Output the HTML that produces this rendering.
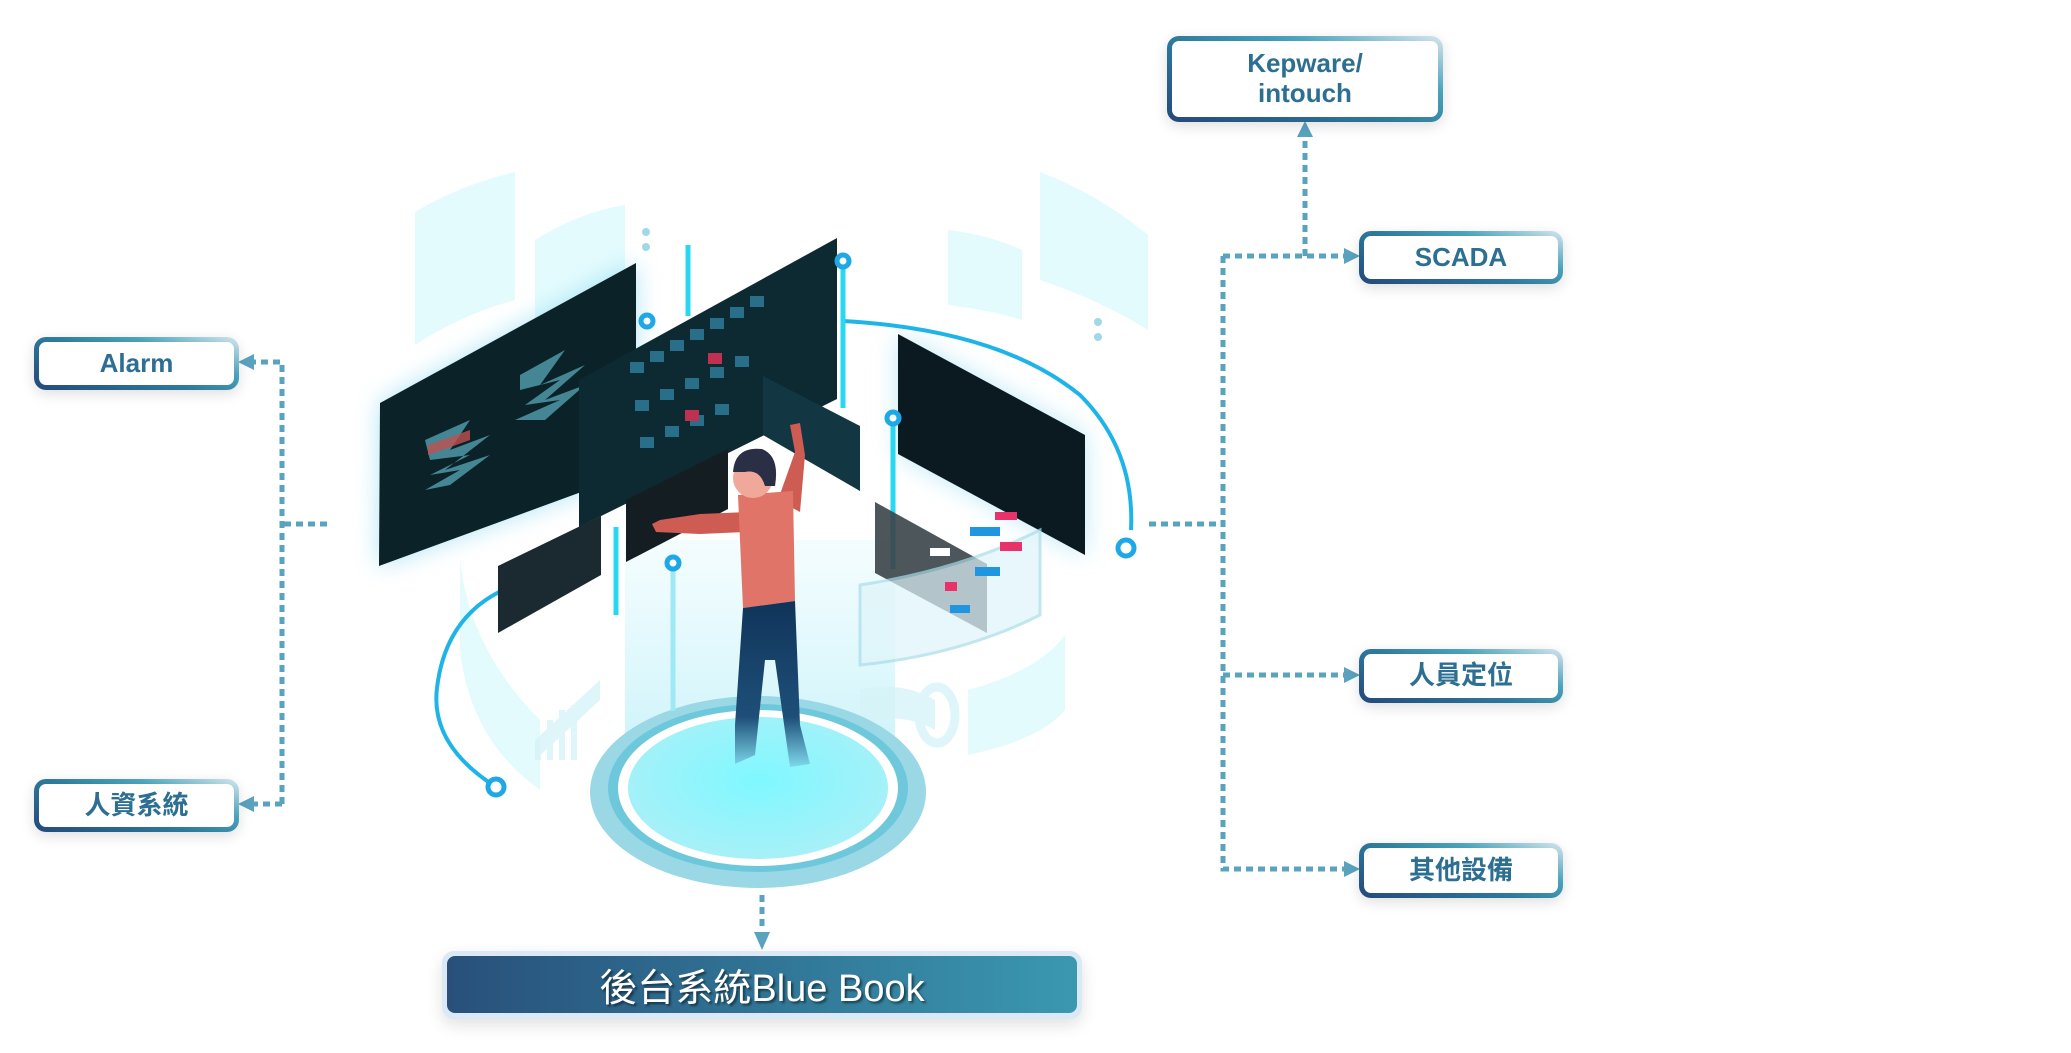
<!DOCTYPE html>
<html><head><meta charset="utf-8"><style>
html,body{margin:0;padding:0;background:#fff;}
body{width:2071px;height:1053px;position:relative;overflow:hidden;font-family:"Liberation Sans","Noto Sans CJK TC",sans-serif;}
.box{position:absolute;box-sizing:border-box;border:5px solid transparent;border-radius:12px;
background:linear-gradient(#fff,#fff) padding-box,linear-gradient(20deg,#24497a 0%,#2e7a9c 45%,#4aa3bb 70%,#d6e6ee 100%) border-box;
box-shadow:0 4px 14px rgba(0,0,0,0.13);color:#2c6f93;font-size:26px;font-weight:bold;text-align:center;display:flex;align-items:center;justify-content:center;line-height:1.15;}
svg{position:absolute;left:0;top:0;}
</style></head><body>
<svg width="2071" height="1053" viewBox="0 0 2071 1053">
<defs>
<radialGradient id="plat" cx="50%" cy="45%" r="55%"><stop offset="0" stop-color="#7ff8ff"/><stop offset="1" stop-color="#a8f0f8"/></radialGradient>
<linearGradient id="pants" x1="0" y1="0" x2="0" y2="1"><stop offset="0" stop-color="#10345a"/><stop offset="0.7" stop-color="#1e4f78"/><stop offset="1" stop-color="#7fd9ec"/></linearGradient>
<linearGradient id="beam" x1="0" y1="0" x2="0" y2="1"><stop offset="0" stop-color="#c9f4fb" stop-opacity="0.2"/><stop offset="1" stop-color="#b4eef8" stop-opacity="0.8"/></linearGradient>
<filter id="glow" x="-20%" y="-20%" width="140%" height="140%"><feGaussianBlur stdDeviation="12"/></filter>
</defs>
<g fill="#e3fbfd">
<path d="M415 212 Q460 185 515 172 L515 300 Q460 315 415 345 Z"/>
<path d="M535 240 Q580 212 625 205 L625 320 Q580 330 535 352 Z"/>
<path d="M1040 172 Q1100 195 1148 235 L1148 330 Q1100 300 1040 280 Z"/>
<path d="M948 230 Q990 235 1022 250 L1022 320 Q990 310 948 305 Z"/>
<path d="M460 560 Q470 650 540 720 L540 790 Q470 740 460 650 Z"/>
<path d="M968 690 Q1040 670 1065 635 L1065 710 Q1040 740 968 755 Z"/>
</g>
<rect x="625" y="540" width="270" height="250" fill="url(#beam)"/>
<g fill="#d6f3f8" opacity="0.8">
<path d="M535 740 L600 680 L600 700 L535 760 Z"/>
<rect x="535" y="740" width="6" height="20"/><rect x="547" y="720" width="6" height="40"/><rect x="559" y="710" width="6" height="50"/><rect x="571" y="705" width="6" height="55"/>
<path d="M860 690 Q900 680 935 700 L935 730 Q900 710 860 725 Z"/>
<ellipse cx="937" cy="715" rx="18" ry="28" fill="none" stroke="#d6f3f8" stroke-width="9"/>
</g>
<ellipse cx="758" cy="792" rx="168" ry="96" fill="#9ad8e6"/>
<ellipse cx="758" cy="788" rx="150" ry="84" fill="#6ec8dc"/>
<ellipse cx="758" cy="788" rx="140" ry="78" fill="#fff"/>
<ellipse cx="758" cy="788" rx="130" ry="71" fill="url(#plat)"/>
<polygon points="380,403 636,263 636,472 379,566" fill="#7fd4f0" filter="url(#glow)" opacity="0.6"/>
<polygon points="898,334 1085,435 1085,555 898,454" fill="#7fd4f0" filter="url(#glow)" opacity="0.5"/>
<path d="M496 787 Q430 745 437 688 Q445 620 499 592" fill="none" stroke="#1fb4e8" stroke-width="4"/>
<path d="M843 321 Q1000 330 1080 395 Q1135 450 1131 530" fill="none" stroke="#1fb4e8" stroke-width="4"/>
<g stroke="#29d7f0" stroke-width="5">
<line x1="688" y1="245" x2="688" y2="316"/><line x1="843" y1="261" x2="843" y2="408"/>
<line x1="893" y1="417" x2="893" y2="569"/><line x1="616" y1="527" x2="616" y2="615"/>
<line x1="673" y1="564" x2="673" y2="711" stroke="#9ee9f5"/>
</g>
<polygon points="380,403 636,263 636,472 379,566" fill="#0b2229"/>
<g fill="#5aa8b8" opacity="0.75">
<polygon points="425,440 470,420 450,450 490,435 445,470 490,455 450,485 425,490 460,470 430,475 470,455 430,460"/>
<polygon points="520,375 565,350 540,385 585,365 545,400 585,385 545,420 515,420 560,400 525,405 560,380 520,390"/>
</g>
<polygon points="428,445 470,430 470,440 428,455" fill="#c0504f" opacity="0.8"/>
<polygon points="579,380 837,238 837,399 579,527" fill="#0d2a33"/>
<g fill="#2a6f8a">
<rect x="630" y="362" width="14" height="11"/><rect x="650" y="351" width="14" height="11"/><rect x="670" y="340" width="14" height="11"/><rect x="690" y="329" width="14" height="11"/><rect x="710" y="318" width="14" height="11"/><rect x="730" y="307" width="14" height="11"/><rect x="750" y="296" width="14" height="11"/>
<rect x="635" y="400" width="14" height="11"/><rect x="660" y="389" width="14" height="11"/><rect x="685" y="378" width="14" height="11"/><rect x="710" y="367" width="14" height="11"/><rect x="735" y="356" width="14" height="11"/>
<rect x="640" y="437" width="14" height="11"/><rect x="665" y="426" width="14" height="11"/><rect x="690" y="415" width="14" height="11"/><rect x="715" y="404" width="14" height="11"/>
</g>
<rect x="708" y="353" width="14" height="11" fill="#c03050"/><rect x="685" y="410" width="14" height="11" fill="#c03050"/>
<polygon points="898,334 1085,435 1085,555 898,454" fill="#0b1a20"/>
<polygon points="763,376 860,426 860,491 763,435" fill="#123642"/>
<polygon points="498,566 601,516 601,575 498,633" fill="#1a2a30"/>
<polygon points="626,500 728,449 728,509 626,562" fill="#141d22"/>
<polygon points="875,502 987,564 987,633 875,573" fill="#3a4448" opacity="0.9"/>
<path d="M860 585 Q960 570 1040 530 L1040 615 Q960 655 860 665 Z" fill="#dff5fa" opacity="0.7" stroke="#a9dce8" stroke-width="3"/>
<g><rect x="995" y="512" width="22" height="8" fill="#e8336a"/><rect x="1000" y="542" width="22" height="9" fill="#e8336a"/><rect x="970" y="527" width="30" height="9" fill="#2196e0"/><rect x="975" y="567" width="25" height="9" fill="#2196e0"/><rect x="945" y="582" width="12" height="9" fill="#e8336a"/><rect x="930" y="548" width="20" height="8" fill="#fff"/><rect x="950" y="605" width="20" height="8" fill="#2196e0"/></g>
<path d="M748 512 L700 514 L660 520 L652 524 L656 532 L700 534 L745 532 Z" fill="#cf5c52"/>
<path d="M778 500 L795 452 L790 425 L800 423 L805 455 L800 512 Z" fill="#cf5c52"/>
<polygon points="738,495 793,491 795,601 743,608" fill="#e07468"/>
<polygon points="743,608 795,601 800,725 810,764 790,767 775,660 765,660 755,755 735,764 735,725" fill="url(#pants)"/>
<circle cx="753" cy="478" r="20" fill="#f0a89a"/>
<path d="M733 472 Q735 446 762 449 Q780 456 775 486 L765 486 Q760 469 745 472 Z" fill="#2b2f45"/>
<g fill="#fff" stroke="#1fa8e6" stroke-width="5">
<circle cx="647" cy="321" r="6"/><circle cx="843" cy="261" r="6"/><circle cx="893" cy="418" r="6"/><circle cx="673" cy="563" r="6"/><circle cx="1126" cy="548" r="8"/><circle cx="496" cy="787" r="8"/>
</g>
<g fill="#9fd9e6"><circle cx="646" cy="232" r="4"/><circle cx="646" cy="247" r="4"/><circle cx="1098" cy="322" r="4"/><circle cx="1098" cy="337" r="4"/></g>
<g stroke="#5aa3bf" stroke-width="5" stroke-dasharray="7,5" fill="none">
<path d="M327 524 L282 524"/>
<path d="M282 804 L282 362 L252 362"/>
<path d="M282 804 L252 804"/>
<path d="M1149 524 L1223 524"/>
<path d="M1223 256 L1223 869 L1345 869"/>
<path d="M1223 256 L1345 256"/>
<path d="M1223 675 L1345 675"/>
<path d="M1305 256 L1305 135"/>
<path d="M762 895 L762 928"/>
</g>
<g fill="#5aa3bf">
<polygon points="238,362 254,354 254,370"/>
<polygon points="238,804 254,796 254,812"/>
<polygon points="1360,256 1344,248 1344,264"/>
<polygon points="1360,675 1344,667 1344,683"/>
<polygon points="1360,869 1344,861 1344,877"/>
<polygon points="1305,121 1297,137 1313,137"/>
<polygon points="762,950 754,932 770,932"/>
</g>
</svg>
<div class="box" style="left:1167px;top:36px;width:276px;height:86px;">Kepware/<br>intouch</div>
<div class="box" style="left:1359px;top:231px;width:204px;height:53px;">SCADA</div>
<div class="box" style="left:1359px;top:649px;width:204px;height:54px;">人員定位</div>
<div class="box" style="left:1359px;top:843px;width:204px;height:55px;">其他設備</div>
<div class="box" style="left:34px;top:337px;width:205px;height:53px;">Alarm</div>
<div class="box" style="left:34px;top:779px;width:205px;height:53px;">人資系統</div>
<div style="position:absolute;left:442px;top:951px;width:640px;height:68px;box-sizing:border-box;border-radius:12px;background:#dbe8f5;box-shadow:0 6px 16px rgba(0,0,0,0.12);padding:5px 5px 6px 5px;">
<div style="width:100%;height:100%;border-radius:8px;background:linear-gradient(90deg,#28507a,#3a98b0);color:#fff;font-size:38px;display:flex;align-items:center;justify-content:center;text-shadow:2px 2px 2px rgba(0,0,0,0.5);">後台系統Blue Book</div>
</div>
</body></html>
